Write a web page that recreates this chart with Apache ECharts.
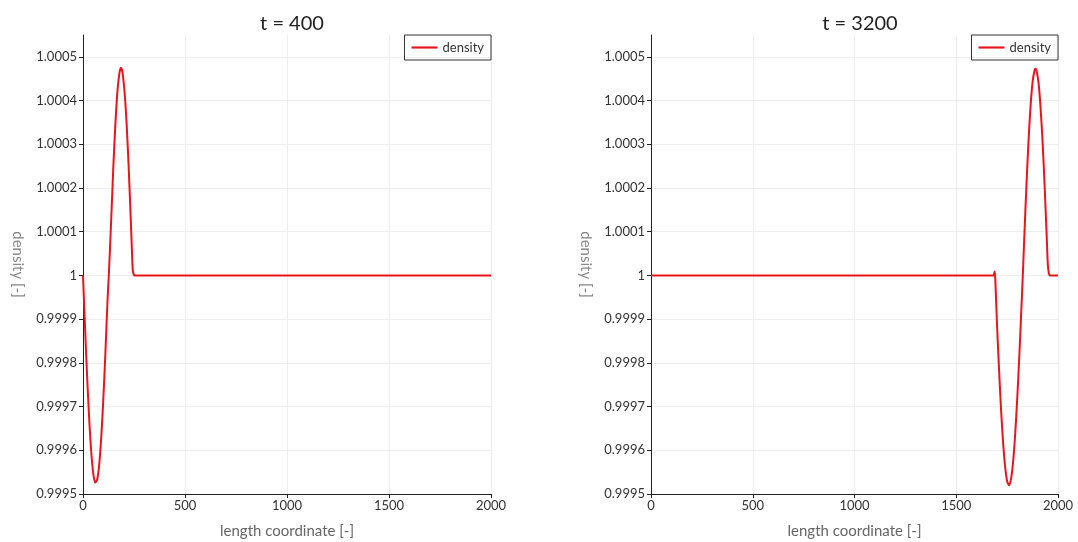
<!DOCTYPE html>
<html><head><meta charset="utf-8">
<script src="https://cdn.jsdelivr.net/npm/echarts@6/dist/echarts.min.js"></script>
<style>html,body{margin:0;padding:0;background:#fff}#c{width:1078px;height:542px}</style>
</head><body><div id="c"></div>
<script>
const titles = ['t = 400', 't = 3200'];
const seriesName = 'density';
const xTicks = [0, 500, 1000, 1500, 2000];
const yTicks = [0.9995, 0.9996, 0.9997, 0.9998, 0.9999, 1, 1.0001, 1.0002, 1.0003, 1.0004, 1.0005];

const x400 = [0,10,20,30,40,50,60,70,80,90,100,110,120,127,138,148,158,168,178,186,194,204,214,224,234,240,244,248,252,2000];
const y400 = [1,0.999882,0.999771,0.999675,0.999599,0.999548,0.999526,0.999534,0.999570,0.999634,0.999721,0.999825,0.999941,1.000005,1.000125,1.000241,1.000340,1.000416,1.000461,1.000475,1.000463,1.000418,1.000345,1.000246,1.000130,1.000055,1.000012,1.000003,1,1];

const x3200 = [0,1682,1686,1689,1692,1700,1710,1720,1730,1740,1750,1760,1770,1780,1790,1800,1810,1820,1827,1835,1845,1855,1865,1875,1885,1890,1895,1905,1915,1925,1935,1945,1950,1955,1960,2000];
const y3200 = [1,1,1.000004,1.000009,0.999990,0.999891,0.999788,0.999695,0.999619,0.999563,0.999529,0.999520,0.999537,0.999577,0.999640,0.999722,0.999817,0.999923,1,1.000095,1.000207,1.000306,1.000386,1.000442,1.000470,1.000473,1.000468,1.000438,1.000379,1.000298,1.000197,1.000083,1.000025,1.000005,1,1];

const FONT = 'Lato, "Noto Sans", sans-serif';
const grids = [
  {left: 83, right: 587, top: 35, bottom: 48, outerBoundsMode: 'none', containLabel: false},
  {left: 651, right: 20, top: 35, bottom: 48, outerBoundsMode: 'none', containLabel: false}
];
const fmtY = v => String(parseFloat(v.toFixed(4)));

function xAxis(i){
  return {
    type: 'value', gridIndex: i, min: xTicks[0], max: xTicks[xTicks.length-1], interval: xTicks[1]-xTicks[0],
    name: 'length coordinate [-]', nameLocation: 'middle', nameGap: 30,
    nameTextStyle: {color: '#666', fontSize: 15, fontFamily: FONT},
    axisLine: {show: true, lineStyle: {color: '#222', width: 1}},
    axisTick: {show: true, length: 4, lineStyle: {color: '#222'}},
    axisLabel: {color: '#333', fontSize: 13, fontFamily: FONT, margin: 5, formatter: v => String(v)},
    splitLine: {show: true, lineStyle: {color: '#eeeeee', width: 1}}
  };
}
function yAxis(i){
  return {
    type: 'value', gridIndex: i, min: yTicks[0], max: 1.00055, interval: 0.0001,
    name: 'density [-]', nameLocation: 'middle', nameGap: 58, nameRotate: -90,
    nameTextStyle: {color: '#888', fontSize: 15, fontFamily: FONT},
    axisLine: {show: true, lineStyle: {color: '#222', width: 1}},
    axisTick: {show: true, length: 4, lineStyle: {color: '#222'}},
    axisLabel: {color: '#333', fontSize: 13, fontFamily: FONT, margin: 6, formatter: fmtY, showMaxLabel: false},
    splitLine: {show: true, showMaxLine: false, lineStyle: {color: '#eeeeee', width: 1}}
  };
}
function series(i, xs, ys){
  return {
    name: seriesName, type: 'line', xAxisIndex: i, yAxisIndex: i,
    data: xs.map((x, k) => [x, ys[k]]),
    showSymbol: false, smooth: 0.3, animation: false,
    lineStyle: {color: '#e8151c', width: 2}, itemStyle: {color: '#e8151c'}
  };
}
const legendCommon = {
  data: [seriesName], top: 35, orient: 'vertical',
  borderColor: '#333', borderWidth: 1, borderRadius: 0,
  padding: [6, 7, 6, 7], itemWidth: 26, itemHeight: 11, itemGap: 4,
  icon: 'path://M0,4 L24,4 L24,6 L0,6 Z',
  textStyle: {color: '#333', fontSize: 13, fontFamily: FONT}, selectedMode: false
};
const chart = echarts.init(document.getElementById('c'), null, {renderer: 'canvas'});
chart.setOption({
  animation: false,
  backgroundColor: '#fff',
  title: [
    {text: titles[0], left: 287, top: 9, textAlign: 'center', textStyle: {color: '#222', fontSize: 20, fontWeight: 'normal', fontFamily: FONT}},
    {text: titles[1], left: 855, top: 9, textAlign: 'center', textStyle: {color: '#222', fontSize: 20, fontWeight: 'normal', fontFamily: FONT}}
  ],
  legend: [
    Object.assign({}, legendCommon, {right: 587}),
    Object.assign({}, legendCommon, {right: 20})
  ],
  grid: grids,
  xAxis: [xAxis(0), xAxis(1)],
  yAxis: [yAxis(0), yAxis(1)],
  series: [series(0, x400, y400), series(1, x3200, y3200)]
});
</script></body></html>
